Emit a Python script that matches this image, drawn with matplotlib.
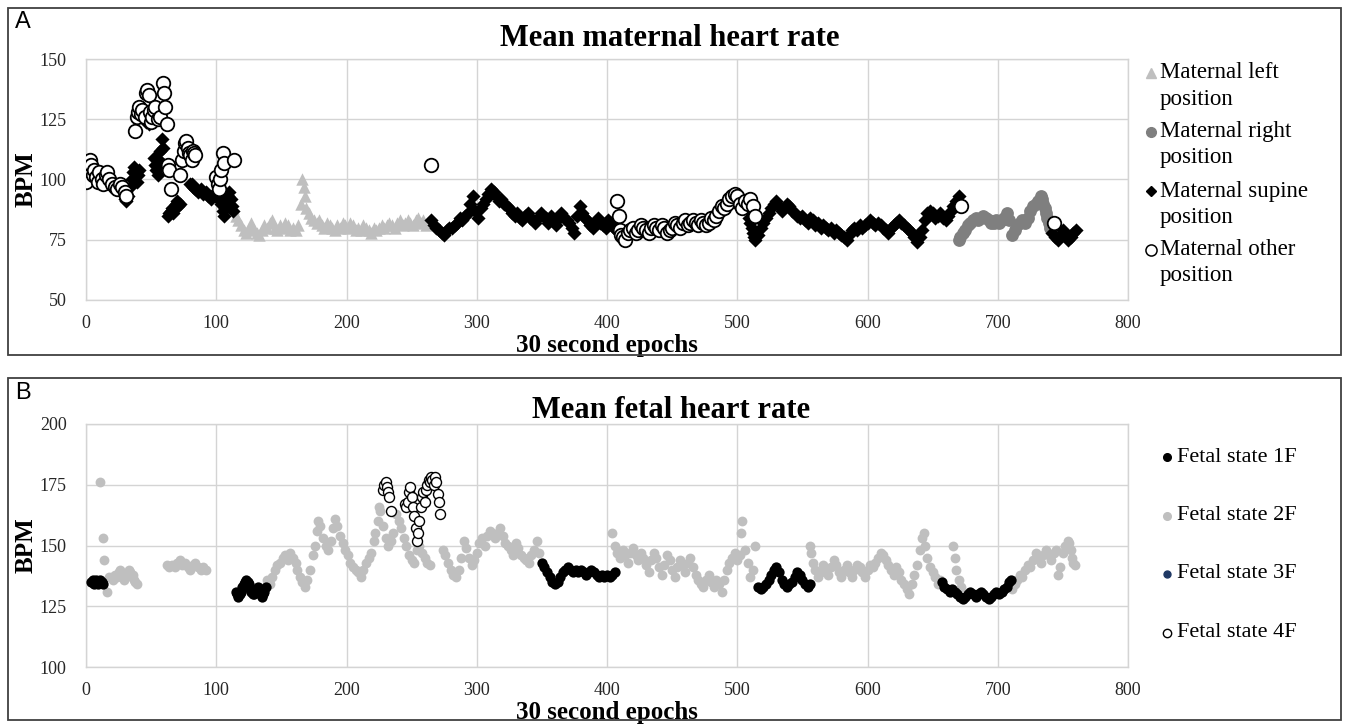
import matplotlib
matplotlib.use('Agg')
import matplotlib.pyplot as plt
from matplotlib.lines import Line2D
from matplotlib.patches import Rectangle

plt.rcParams['font.family'] = ['Liberation Serif', 'DejaVu Serif']

# ---- A: mean maternal heart rate (BPM) per 30 s epoch, by position ----
mat_left_x = [113, 115, 117, 119, 121, 123, 125, 127, 129, 131, 133, 135, 137, 139, 141, 143, 145, 147,
              149, 151, 153, 155, 157, 159, 161, 163, 165, 166, 167, 168, 169, 171, 173, 175, 177, 179,
              181, 183, 185, 187, 189, 191, 193, 195, 197, 199, 201, 203, 205, 207, 209, 211, 213, 215,
              217, 219, 221, 223, 225, 227, 229, 231, 233, 235, 237, 239, 241, 243, 245, 247, 249, 251,
              253, 255, 257, 259, 261, 263]
mat_left_y = [88, 85, 83, 81, 79, 78, 80, 82, 79, 78, 77, 79, 81, 80, 82, 83, 80, 79,
              81, 80, 82, 81, 79, 80, 79, 81, 90, 100, 97, 93, 88, 86, 84, 83, 82, 83,
              81, 80, 82, 81, 80, 79, 81, 80, 82, 81, 80, 82, 81, 79, 80, 79, 81, 80,
              79, 78, 80, 79, 80, 81, 80, 81, 82, 81, 80, 82, 83, 81, 82, 83, 82, 81,
              83, 84, 82, 83, 81, 82]

mat_right_x = [670, 671, 673, 675, 677, 679, 681, 683, 685, 687, 689, 691, 693, 695, 697, 699, 701, 703,
               705, 707, 709, 711, 713, 715, 717, 719, 721, 723, 725, 727, 729, 731, 733, 734, 735, 736,
               737, 738, 739, 740]
mat_right_y = [75, 76, 78, 79, 81, 82, 83, 84, 83, 84, 85, 84, 83, 82, 82, 83, 82, 83,
               84, 86, 83, 77, 79, 81, 82, 83, 82, 84, 87, 89, 90, 91, 93, 92, 90, 88,
               86, 84, 82, 80]

mat_supine_x = [30, 31, 32, 34, 35, 36, 37, 38, 39, 40, 41,
                46, 48, 50, 52, 53, 54, 55, 56, 57, 58, 59, 60,
                63, 64, 65, 66, 67, 68, 69, 70, 71, 72,
                80, 81, 82, 83, 84, 86, 88, 90, 92, 94, 96, 98, 99, 100, 102, 104, 105, 106, 107,
                108, 109, 110, 111, 112, 113,
                265, 267, 269, 271, 273, 275, 277, 279, 281, 283, 285, 287, 289, 291, 293, 295, 297,
                299, 301, 303, 305, 307, 309, 311, 313, 315, 317, 319, 321, 323, 325, 327, 329, 331,
                333, 335, 337, 339, 341, 343, 345, 347, 349, 351, 353, 355, 357, 359, 361, 363, 365,
                367, 369, 371, 373, 375, 377, 379, 381, 383, 385, 387, 389, 391, 393, 395, 397, 399,
                401, 403, 405, 407,
                509, 510, 511, 512, 513, 514, 516, 518, 520, 522, 524, 526, 528, 530, 532, 534, 536,
                538, 540, 542, 544, 546, 548, 550, 552, 554, 556, 558, 560, 562, 564, 566, 568, 570,
                572, 574, 576, 578, 580, 582, 584, 586, 588, 590, 592, 594, 596, 598, 600, 602, 604,
                606, 608, 610, 612, 614, 616, 618, 620, 622, 624, 626, 628, 630, 632, 634, 636, 638,
                640, 642, 644, 646, 648, 650, 652, 654, 656, 658, 660, 662, 664, 666, 668, 670,
                742, 744, 746, 748, 750, 752, 754, 756, 758, 760]
mat_supine_y = [92, 91, 93, 97, 100, 103, 105, 101, 99, 102, 104,
                124, 123, 125, 109, 106, 104, 102, 108, 112, 117, 113, 106,
                85, 86, 87, 88, 86, 89, 90, 91, 89, 90,
                98, 98, 97, 97, 96, 95, 96, 94, 95, 93, 92, 94, 93, 95, 92, 90, 87, 85, 88,
                91, 93, 95, 92, 89, 87,
                83, 81, 80, 79, 78, 77, 79, 80, 80, 81, 82, 84, 83, 85, 86, 90, 93,
                87, 84, 88, 90, 92, 94, 96, 95, 93, 91, 92, 90, 89, 88, 86, 85, 86,
                84, 83, 85, 86, 84, 83, 82, 84, 86, 85, 84, 82, 85, 83, 81, 84, 86,
                84, 83, 82, 80, 78, 85, 89, 86, 84, 83, 81, 80, 82, 84, 82, 81, 80,
                83, 82, 80, 79,
                84, 82, 80, 78, 76, 75, 77, 80, 82, 84, 86, 88, 90, 91, 89, 87, 88,
                90, 89, 87, 86, 85, 84, 85, 83, 82, 84, 83, 81, 82, 80, 81, 80, 79,
                80, 78, 79, 78, 77, 76, 75, 77, 79, 80, 79, 81, 80, 81, 82, 83, 82,
                81, 82, 81, 80, 79, 78, 80, 81, 82, 83, 82, 81, 80, 79, 78, 76, 74,
                76, 79, 83, 86, 87, 86, 84, 85, 86, 84, 83, 85, 87, 89, 91, 93,
                78, 76, 75, 77, 79, 77, 75, 76, 78, 79]

mat_other_x = [0, 2, 3, 4, 5, 6, 8, 9, 10, 12, 13, 15, 16, 18, 20, 22, 24, 26, 28, 30, 31,
               38, 39, 40, 41, 42, 43, 45, 46, 47, 48, 49, 50, 51, 52, 53, 55, 57, 59, 60, 61, 62,
               63, 64, 65,
               72, 74, 75, 76, 77, 78, 79, 80, 81, 82, 83, 84,
               100, 101, 102, 103, 104, 105, 106, 114,
               265,
               408, 409, 410, 411, 412, 414, 416, 418, 420, 422, 424, 426, 428, 430, 432, 434, 436,
               438, 440, 442, 444, 446, 448, 450, 452, 454, 456, 458, 460, 462, 464, 466, 468, 470,
               472, 474, 476, 478, 480, 482, 484, 486, 488, 490, 492, 494, 496, 498, 500, 502, 504,
               506, 508, 510, 512, 514,
               672, 743]
mat_other_y = [99, 104, 108, 106, 102, 104, 101, 99, 103, 100, 98, 102, 103, 100, 98, 97, 96, 98, 97, 95, 93,
               120, 126, 128, 130, 127, 129, 126, 136, 137, 135, 128, 124, 126, 129, 130, 125, 126, 140, 136, 130, 123,
               106, 104, 96,
               102, 108, 112, 115, 116, 113, 111, 110, 108, 112, 111, 110,
               101, 98, 96, 100, 104, 111, 107, 108,
               106,
               91, 85, 79, 77, 76, 75, 78, 79, 80, 78, 79, 81, 80, 79, 78, 80, 81,
               80, 79, 81, 80, 78, 79, 80, 82, 81, 80, 82, 83, 81, 82, 83, 82, 81,
               83, 82, 81, 82, 84, 83, 85, 87, 89, 88, 90, 92, 93, 94, 93, 90, 88,
               91, 90, 92, 89, 85,
               89, 82]

# ---- B: mean fetal heart rate (BPM) per 30 s epoch, by fetal state ----
fet_1f_x = [4, 5, 6, 7, 8, 9, 10, 11, 12, 13,
            115, 116, 117, 118, 119, 120, 121, 122, 123, 124, 125, 126, 127, 128, 129, 130, 131,
            132, 133, 134, 135, 136, 137, 138,
            350, 352, 354, 356, 358, 360, 362, 364, 366, 368, 370, 372, 374, 376, 378, 380, 382,
            384, 386, 388, 390, 392, 394, 396, 398, 400, 402, 404, 406,
            516, 518, 520, 522, 524, 526, 528, 530, 532, 534, 536, 538, 540, 542, 544, 546, 548,
            550, 552, 554, 556,
            657, 659, 661, 663, 665, 667, 669, 671, 673, 675, 677, 679, 681, 683, 685, 687, 689,
            691, 693, 695, 697, 699, 701, 703, 705, 707, 709, 710]
fet_1f_y = [135, 136, 134, 135, 136, 134, 135, 136, 135, 134,
            131, 130, 129, 130, 131, 133, 134, 135, 136, 135, 134, 132, 131, 130, 130, 131, 132,
            133, 132, 130, 129, 130, 131, 133,
            143, 141, 139, 137, 135, 134, 135, 137, 139, 140, 141, 140, 139, 140, 139, 140, 139,
            138, 139, 140, 139, 138, 137, 138, 137, 138, 137, 138, 139,
            133, 132, 133, 134, 136, 138, 140, 141, 139, 136, 134, 133, 134, 135, 137, 139, 138,
            136, 134, 133, 134,
            135, 133, 132, 131, 132, 131, 130, 129, 128, 129, 130, 131, 130, 129, 130, 131, 130,
            129, 128, 129, 130, 131, 130, 131, 132, 133, 135, 136]

fet_2f_x = [11, 13, 14, 16, 18, 20, 21, 22, 24, 25, 26, 28, 29, 30, 32, 33, 34, 35, 36, 37, 38, 39,
            62, 64, 66, 68, 70, 72, 74, 76, 78, 80, 82, 84, 86, 88, 90, 92,
            139, 141, 143, 145, 147, 149, 151, 153, 155, 157, 159, 161, 162, 164, 166, 168, 170,
            172, 174, 176, 177, 178, 180, 182, 184, 186, 188, 190, 191, 193, 195, 197, 199, 201,
            203, 205, 207, 209, 211, 213, 215, 217, 219, 221, 222, 224, 225, 226, 228, 230, 232,
            234, 236, 238, 240, 242, 244, 246, 248, 250, 252, 254, 256, 258, 260, 262, 264,
            274, 276, 278, 280, 282, 284, 286, 288, 290, 292, 294, 296, 298, 300, 302, 304, 306,
            308, 310, 312, 314, 316, 318, 320, 322, 324, 326, 328, 330, 332, 334, 336, 338, 340,
            342, 344, 346, 348,
            404, 406, 408, 410, 412, 414, 416, 418, 420, 422, 424, 426, 428, 430, 432, 434, 436,
            438, 440, 442, 444, 446, 448, 450, 452, 454, 456, 458, 460, 462, 464, 466, 468, 470,
            472, 474, 476, 478, 480, 482, 484, 486, 488, 490, 492, 494, 496, 498, 500, 502, 503,
            504, 506, 508, 510, 512, 514,
            556, 557, 558, 560, 562, 564, 566, 568, 570, 572, 574, 576, 578, 580, 582, 584, 586,
            588, 590, 592, 594, 596, 598, 600, 602, 604, 606, 608, 610, 612, 614, 616, 618, 620,
            622, 624, 626, 628, 630, 632, 634, 636, 638, 640, 642, 643, 644, 646, 648, 650, 652,
            654, 656, 666, 667, 668, 670, 672,
            711, 713, 715, 717, 719, 721, 723, 725, 727, 729, 731, 733, 735, 737, 739, 741, 743,
            745, 746, 748, 750, 752, 754, 755, 756, 757, 758, 759]
fet_2f_y = [176, 153, 144, 131, 137, 137, 136, 138, 137, 139, 140, 138, 136, 137, 138, 140, 139, 137, 138, 136, 135, 134,
            142, 141, 142, 141, 143, 144, 142, 143, 141, 140, 142, 143, 141, 140, 141, 140,
            136, 134, 137, 140, 142, 143, 145, 146, 144, 147, 145, 143, 140, 137, 135, 133, 136,
            140, 146, 150, 156, 160, 158, 153, 150, 148, 152, 157, 161, 158, 154, 151, 148, 146,
            143, 141, 140, 139, 137, 140, 143, 145, 147, 152, 155, 160, 166, 164, 158, 153, 150,
            152, 155, 163, 160, 157, 153, 150, 146, 144, 143, 148, 150, 147, 145, 143, 142,
            148, 146, 143, 140, 138, 137, 140, 145, 152, 149, 145, 142, 144, 147, 151, 153, 150,
            154, 156, 155, 153, 155, 157, 154, 151, 150, 148, 146, 151, 149, 146, 145, 144, 143,
            146, 148, 152, 147,
            155, 150, 147, 145, 148, 146, 143, 147, 149, 146, 144, 147, 145, 142, 139, 144, 147,
            145, 141, 138, 142, 146, 144, 140, 137, 141, 144, 142, 139, 143, 145, 141, 138, 136,
            134, 133, 136, 138, 135, 133, 136, 134, 131, 136, 140, 143, 145, 147, 144, 146, 155,
            160, 148, 143, 137, 140, 150,
            150, 147, 143, 140, 137, 139, 142, 140, 138, 141, 144, 142, 139, 137, 140, 142, 139,
            137, 140, 142, 141, 139, 137, 140, 142, 141, 143, 145, 147, 146, 144, 142, 140, 138,
            141, 139, 136, 134, 132, 130, 134, 138, 142, 148, 153, 155, 150, 145, 141, 139, 137,
            134, 136, 150, 145, 140, 136, 133,
            132, 134, 136, 138, 137, 140, 142, 141, 144, 147, 145, 143, 146, 148, 146, 144, 147,
            148, 138, 141, 147, 150, 152, 151, 148, 145, 143, 142]

fet_3f_x = []
fet_3f_y = []

fet_4f_x = [228, 229, 230, 231, 232, 233, 234, 245, 246, 247, 248, 249, 250, 251, 252, 253, 254,
            255, 256, 257, 258, 259, 260, 261, 262, 263, 264, 265, 266, 267, 268, 269, 270, 271, 272]
fet_4f_y = [173, 175, 176, 174, 172, 170, 164, 167, 166, 168, 172, 174, 170, 166, 162, 157, 152,
            155, 160, 166, 170, 172, 168, 173, 175, 177, 176, 178, 177, 175, 178, 176, 171, 168, 163]

W, H = 1345, 724


def fx(px):
    return px / W


def fy(py):
    return 1 - py / H


GRID = '#d4d4d4'
LIGHT = '#bfbfbf'
DARK = '#7f7f7f'
NAVY = '#1f3864'


def style_axes(ax, ylim, yticks):
    ax.set_xlim(0, 800)
    ax.set_ylim(*ylim)
    ax.set_xticks(range(0, 801, 100))
    ax.set_yticks(yticks)
    ax.grid(True, color=GRID, lw=1)
    ax.set_axisbelow(True)
    for s in ax.spines.values():
        s.set_color(GRID)
        s.set_linewidth(1)
    ax.tick_params(length=0, labelsize=13, colors='#262626')
    ax.tick_params(axis='x', pad=11)
    ax.tick_params(axis='y', pad=14)
    ax.set_xlabel('30 second epochs', fontsize=18, fontweight='bold', labelpad=1)
    ax.set_ylabel('BPM', fontsize=18, fontweight='bold', labelpad=1)


def legend_marker(x, y, **kw):
    fig.add_artist(Line2D([fx(x)], [fy(y)], transform=fig.transFigure, ls='none', **kw))


fig = plt.figure(figsize=(W / 100, H / 100), dpi=100)

# panel frames
fig.add_artist(Rectangle((fx(8), fy(355)), (1341 - 8) / W, (355 - 8) / H, transform=fig.transFigure,
                         fill=False, ec='#404040', lw=1.3))
fig.add_artist(Rectangle((fx(8), fy(720)), (1341 - 8) / W, (720 - 378) / H, transform=fig.transFigure,
                         fill=False, ec='#404040', lw=1.3))

# ---------- panel A ----------
axA = fig.add_axes([fx(86), fy(300), (1128 - 86) / W, (300 - 59) / H])
style_axes(axA, (50, 150), [50, 75, 100, 125, 150])
axA.scatter(mat_left_x, mat_left_y, marker='^', s=80, color=LIGHT, lw=0, zorder=2)
axA.scatter(mat_right_x, mat_right_y, marker='o', s=85, color=DARK, lw=0, zorder=3)
axA.scatter(mat_supine_x, mat_supine_y, marker='D', s=52, color='black', lw=0, zorder=4)
axA.scatter(mat_other_x, mat_other_y, marker='o', s=95, facecolor='white', edgecolor='black', lw=1.3, zorder=5)

fig.text(fx(670), fy(38), 'Mean maternal heart rate', ha='center', va='center', fontsize=22, fontweight='bold')
fig.text(fx(15), fy(22), 'A', ha='left', va='center', fontsize=17, family='Liberation Sans')

legA = [
    (dict(marker='^', ms=7, color=LIGHT, mec=LIGHT), 'Maternal left'),
    (dict(marker='o', ms=7, color=DARK, mec=DARK), 'Maternal right'),
    (dict(marker='D', ms=5, color='black', mec='black'), 'Maternal supine'),
    (dict(marker='o', ms=8, mfc='white', mec='black', mew=1.1), 'Maternal other'),
]
for i, (kw, lab) in enumerate(legA):
    y0 = 73 + i * 59
    legend_marker(1151, y0, **kw)
    fig.text(fx(1160), fy(y0), lab, ha='left', va='center', fontsize=16.5)
    fig.text(fx(1160), fy(y0 + 26), 'position', ha='left', va='center', fontsize=16.5)

# ---------- panel B ----------
axB = fig.add_axes([fx(86), fy(667), (1128 - 86) / W, (667 - 424) / H])
style_axes(axB, (100, 200), [100, 125, 150, 175, 200])
axB.scatter(fet_2f_x, fet_2f_y, marker='o', s=50, color=LIGHT, lw=0, zorder=2)
axB.scatter(fet_1f_x, fet_1f_y, marker='o', s=55, color='black', lw=0, zorder=3)
axB.scatter(fet_3f_x, fet_3f_y, marker='o', s=50, color=NAVY, lw=0, zorder=4)
axB.scatter(fet_4f_x, fet_4f_y, marker='o', s=52, facecolor='white', edgecolor='black', lw=1.0, zorder=5)

fig.text(fx(671), fy(410), 'Mean fetal heart rate', ha='center', va='center', fontsize=22, fontweight='bold')
fig.text(fx(15), fy(393), 'B', ha='left', va='center', fontsize=17, family='Liberation Sans')

legB = [
    (dict(marker='o', ms=5.5, color='black', mec='black'), 'Fetal state 1F'),
    (dict(marker='o', ms=5.5, color=LIGHT, mec=LIGHT), 'Fetal state 2F'),
    (dict(marker='o', ms=5, color=NAVY, mec=NAVY), 'Fetal state 3F'),
    (dict(marker='o', ms=6, mfc='white', mec='black', mew=1.0), 'Fetal state 4F'),
]
for i, (kw, lab) in enumerate(legB):
    y0 = 457 + i * 58.5
    legend_marker(1167, y0, **kw)
    fig.text(fx(1177), fy(y0), lab, ha='left', va='center', fontsize=16)

fig.savefig('out.png', dpi=100)
